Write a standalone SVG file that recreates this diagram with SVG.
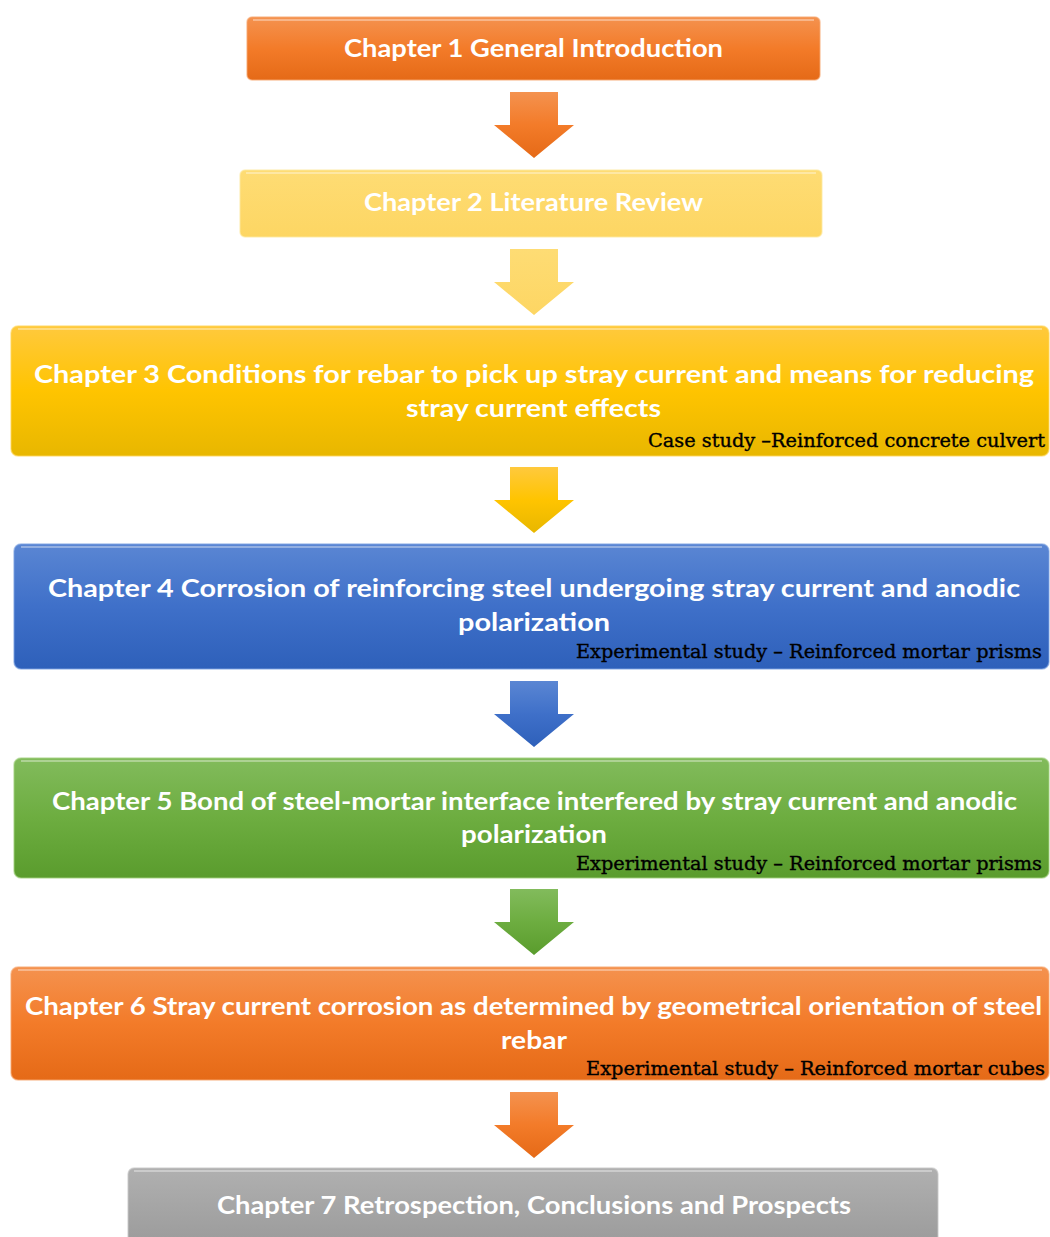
<svg xmlns="http://www.w3.org/2000/svg" width="1050" height="1237" viewBox="0 0 1050 1237">
<defs>
<linearGradient id="gOrange" x1="0" y1="0" x2="0" y2="1"><stop offset="0" stop-color="#f4924f"/><stop offset="0.5" stop-color="#f37b29"/><stop offset="1" stop-color="#e56a17"/></linearGradient>
<linearGradient id="gLight" x1="0" y1="0" x2="0" y2="1"><stop offset="0" stop-color="#fedc74"/><stop offset="1" stop-color="#fdd663"/></linearGradient>
<linearGradient id="gYellow" x1="0" y1="0" x2="0" y2="1"><stop offset="0" stop-color="#ffc93d"/><stop offset="0.5" stop-color="#ffc400"/><stop offset="1" stop-color="#e8b700"/></linearGradient>
<linearGradient id="gBlue" x1="0" y1="0" x2="0" y2="1"><stop offset="0" stop-color="#5a86d3"/><stop offset="0.5" stop-color="#3f70c9"/><stop offset="1" stop-color="#2e60ba"/></linearGradient>
<linearGradient id="gGreen" x1="0" y1="0" x2="0" y2="1"><stop offset="0" stop-color="#82bb5c"/><stop offset="0.5" stop-color="#6dad40"/><stop offset="1" stop-color="#5a9c2d"/></linearGradient>
<linearGradient id="gGray" x1="0" y1="0" x2="0" y2="1"><stop offset="0" stop-color="#b0b0b0"/><stop offset="1" stop-color="#9a9a9a"/></linearGradient>
<path id="arrowShape" d="M510,92 H558 V125 H574 L534,158 L494,125 H510 Z"/>
</defs>
<style>
.t{font-family:Lato,"Open Sans","Liberation Sans",sans-serif;font-weight:bold;font-size:25px;fill:#ffffff;text-anchor:middle}
.s{font-family:"DejaVu Serif","Liberation Serif",serif;font-size:19px;fill:#000000;stroke:#000000;stroke-width:0.35;text-anchor:end}
.hl{fill:none;stroke:#ffffff;stroke-opacity:0.35;stroke-width:2}
.edge{stroke-opacity:0.6;stroke-width:1.5}
</style>
<rect width="1050" height="1237" fill="#ffffff"/>

<g id="connectors">
<use href="#arrowShape" fill="url(#gOrange)"/>
<use href="#arrowShape" transform="translate(0,157)" fill="url(#gLight)"/>
<use href="#arrowShape" transform="translate(0,375)" fill="url(#gYellow)"/>
<use href="#arrowShape" transform="translate(0,589)" fill="url(#gBlue)"/>
<use href="#arrowShape" transform="translate(0,797)" fill="url(#gGreen)"/>
<use href="#arrowShape" transform="translate(0,1000)" fill="url(#gOrange)"/>
</g>

<g id="node1">
<rect x="247" y="17" width="573" height="63" rx="5" fill="url(#gOrange)" stroke="#f7a66f" class="edge"/>
<path class="hl" d="M253,20 H814"/>
<text class="t" x="533.5" y="57" textLength="379" lengthAdjust="spacingAndGlyphs">Chapter 1 General Introduction</text>
</g>

<g id="node2">
<rect x="240" y="170" width="582" height="67" rx="5" fill="url(#gLight)" stroke="#fee9a0" class="edge"/>
<path class="hl" d="M246,173 H816"/>
<text class="t" x="533.5" y="211" textLength="339" lengthAdjust="spacingAndGlyphs">Chapter 2 Literature Review</text>
</g>

<g id="node3">
<rect x="11" y="326" width="1038" height="130" rx="7" fill="url(#gYellow)" stroke="#ffd65a" class="edge"/>
<path class="hl" d="M18,329 H1042"/>
<text class="t" x="534" y="383" textLength="1000" lengthAdjust="spacingAndGlyphs">Chapter 3 Conditions for rebar to pick up stray current and means for reducing</text>
<text class="t" x="533.5" y="417" textLength="255" lengthAdjust="spacingAndGlyphs">stray current effects</text>
<text class="s" x="1045" y="447" textLength="397" lengthAdjust="spacingAndGlyphs">Case study –Reinforced concrete culvert</text>
</g>

<g id="node4">
<rect x="14" y="544" width="1035" height="125" rx="7" fill="url(#gBlue)" stroke="#7aa0e0" class="edge"/>
<path class="hl" d="M21,547 H1042"/>
<text class="t" x="534" y="597" textLength="972" lengthAdjust="spacingAndGlyphs">Chapter 4 Corrosion of reinforcing steel undergoing stray current and anodic</text>
<text class="t" x="534" y="631" textLength="152" lengthAdjust="spacingAndGlyphs">polarization</text>
<text class="s" x="1042" y="658" textLength="466" lengthAdjust="spacingAndGlyphs">Experimental study – Reinforced mortar prisms</text>
</g>

<g id="node5">
<rect x="14" y="758" width="1035" height="120" rx="7" fill="url(#gGreen)" stroke="#a2d07e" class="edge"/>
<path class="hl" d="M21,761 H1042"/>
<text class="t" x="534.5" y="810" textLength="965" lengthAdjust="spacingAndGlyphs">Chapter 5 Bond of steel-mortar interface interfered by stray current and anodic</text>
<text class="t" x="534" y="843" textLength="146" lengthAdjust="spacingAndGlyphs">polarization</text>
<text class="s" x="1042" y="870" textLength="466" lengthAdjust="spacingAndGlyphs">Experimental study – Reinforced mortar prisms</text>
</g>

<g id="node6">
<rect x="11" y="967" width="1038" height="113" rx="7" fill="url(#gOrange)" stroke="#f7a66f" class="edge"/>
<path class="hl" d="M18,970 H1042"/>
<text class="t" x="533.5" y="1015" textLength="1017" lengthAdjust="spacingAndGlyphs">Chapter 6 Stray current corrosion as determined by geometrical orientation of steel</text>
<text class="t" x="534" y="1049" textLength="66" lengthAdjust="spacingAndGlyphs">rebar</text>
<text class="s" x="1045" y="1075" textLength="459" lengthAdjust="spacingAndGlyphs">Experimental study – Reinforced mortar cubes</text>
</g>

<g id="node7">
<rect x="128" y="1168" width="810" height="80" rx="6" fill="url(#gGray)" stroke="#c8c8c8" class="edge"/>
<path class="hl" d="M134,1171 H932"/>
<text class="t" x="534" y="1214" textLength="634" lengthAdjust="spacingAndGlyphs">Chapter 7 Retrospection, Conclusions and Prospects</text>
</g>
</svg>
